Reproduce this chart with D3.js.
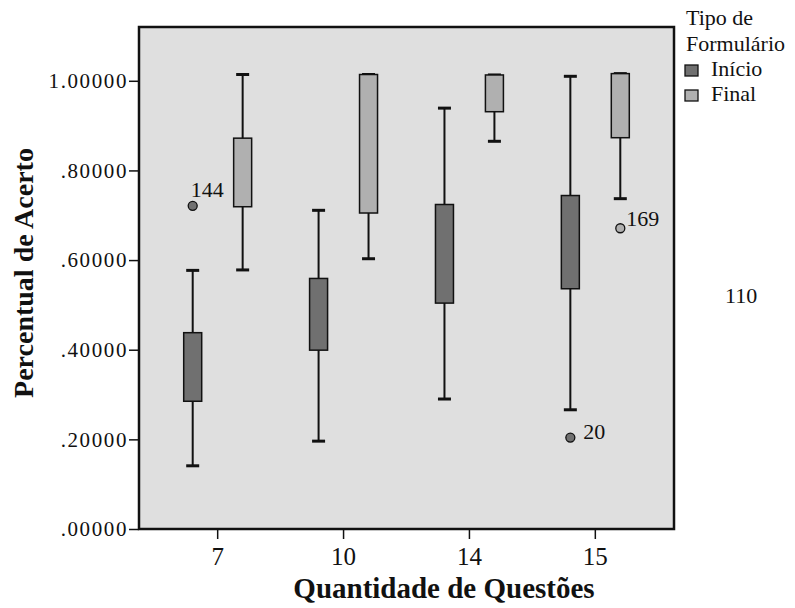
<!DOCTYPE html>
<html>
<head>
<meta charset="utf-8">
<script src="https://cdn.jsdelivr.net/npm/d3@7"></script>
<style>
  body { margin: 0; background: #fff; }
  svg text { font-family: "Liberation Serif", "Times New Roman", serif; fill: #111; }
</style>
</head>
<body>
<div id="chart"></div>
<script>
// categories and series
const questoes = ["7", "10", "14", "15"];
const formularios = ["Início", "Final"];

// box summaries: [whisker low, q1, q3, whisker high]
const inicioBoxes = [
    [0.141, 0.285, 0.438, 0.577],
    [0.196, 0.399, 0.559, 0.711],
    [0.290, 0.504, 0.724, 0.939],
    [0.266, 0.536, 0.744, 1.010]
];
const finalBoxes = [
    [0.578, 0.719, 0.872, 1.014],
    [0.603, 0.705, 1.014, 1.014],
    [0.865, 0.931, 1.013, 1.013],
    [0.737, 0.873, 1.016, 1.016]
];

// outliers
const outlierGroup = ["7", "15", "15"];
const outlierSeries = ["Início", "Início", "Final"];
const outlierValue = [0.721, 0.204, 0.671];
const outlierLabel = ["144", "20", "169"];

const yTicks = [0, 0.2, 0.4, 0.6, 0.8, 1.0];
const strayLabel = "110";

const width = 795, height = 608;
const margin = { left: 139, right: 121, top: 27, bottom: 79 };
const fills = { "Início": "#707070", "Final": "#b0b0b0" };

let svg = d3.select("#chart").append("svg")
    .attr("width", width)
    .attr("height", height);

let x = d3.scaleBand()
    .domain(questoes)
    .range([margin.left, width - margin.right])
    .paddingInner(0)
    .paddingOuter(0.125);

let xInner = d3.scalePoint()
    .domain(formularios)
    .range([0, x.bandwidth()])
    .padding(0.76);

let y = d3.scaleLinear()
    .domain([0, 1.12])
    .range([height - margin.bottom, margin.top]);

// plot background
svg.append("rect")
    .attr("x", margin.left)
    .attr("y", margin.top)
    .attr("width", width - margin.left - margin.right)
    .attr("height", height - margin.top - margin.bottom)
    .attr("fill", "#dfdfdf");

// axes
let fmt = d => d3.format(".5f")(d).replace(/^0/, "");

let yAxis = svg.append("g")
    .attr("transform", `translate(${margin.left},0)`)
    .call(d3.axisLeft(y).tickValues(yTicks).tickFormat(fmt).tickSize(10).tickPadding(1));
yAxis.select(".domain").remove();
yAxis.selectAll(".tick line").attr("stroke", "#111").attr("stroke-width", 1.5);
yAxis.selectAll(".tick text")
    .attr("font-size", 21)
    .style("letter-spacing", "1.6px");

let xAxis = svg.append("g")
    .attr("transform", `translate(0,${height - margin.bottom})`)
    .call(d3.axisBottom(x).tickSize(10).tickPadding(8));
xAxis.select(".domain").remove();
xAxis.selectAll(".tick line").attr("stroke", "#111").attr("stroke-width", 1.5);
xAxis.selectAll(".tick text")
    .attr("font-size", 25);

// boxes
let boxW = 18, capW = 13;
let rows = [];
questoes.forEach((q, i) => {
    rows.push({ q: q, s: "Início", v: inicioBoxes[i] });
    rows.push({ q: q, s: "Final", v: finalBoxes[i] });
});

let box = svg.append("g").selectAll("g")
    .data(rows)
    .join("g")
    .attr("transform", d => `translate(${x(d.q) + xInner(d.s)},0)`);

box.append("line")
    .attr("y1", d => y(d.v[0]))
    .attr("y2", d => y(d.v[3]))
    .attr("stroke", "#111")
    .attr("stroke-width", 2);

box.selectAll("line.cap")
    .data(d => [d.v[0], d.v[3]])
    .join("line")
    .attr("class", "cap")
    .attr("x1", -capW / 2)
    .attr("x2", capW / 2)
    .attr("y1", d => y(d))
    .attr("y2", d => y(d))
    .attr("stroke", "#111")
    .attr("stroke-width", 3);

box.append("rect")
    .attr("x", -boxW / 2)
    .attr("width", boxW)
    .attr("y", d => y(d.v[2]))
    .attr("height", d => y(d.v[1]) - y(d.v[2]))
    .attr("fill", d => fills[d.s])
    .attr("stroke", "#111")
    .attr("stroke-width", 1.5);

// outliers and their case numbers
let labelPlace = {
    "144": { dx: -2, dy: -9 },
    "20": { dx: 13, dy: 1 },
    "169": { dx: 6, dy: -2 }
};
let outliers = outlierValue.map((v, i) => ({
    q: outlierGroup[i], s: outlierSeries[i], v: v, label: outlierLabel[i]
}));

let out = svg.append("g").selectAll("g")
    .data(outliers)
    .join("g")
    .attr("transform", d => `translate(${x(d.q) + xInner(d.s)},${y(d.v)})`);

out.append("circle")
    .attr("r", 4.5)
    .attr("fill", d => fills[d.s])
    .attr("stroke", "#111")
    .attr("stroke-width", 1.3);

out.append("text")
    .attr("x", d => labelPlace[d.label].dx)
    .attr("y", d => labelPlace[d.label].dy)
    .attr("font-size", 22)
    .text(d => d.label);

// frame
svg.append("rect")
    .attr("x", margin.left)
    .attr("y", margin.top)
    .attr("width", width - margin.left - margin.right)
    .attr("height", height - margin.top - margin.bottom)
    .attr("fill", "none")
    .attr("stroke", "#111")
    .attr("stroke-width", 2.5);

// axis titles
svg.append("text")
    .attr("x", 444)
    .attr("y", 598)
    .attr("text-anchor", "middle")
    .attr("font-size", 29)
    .attr("font-weight", "bold")
    .text("Quantidade de Questões");

svg.append("text")
    .attr("transform", `translate(33,${273}) rotate(-90)`)
    .attr("text-anchor", "middle")
    .attr("font-size", 28)
    .attr("font-weight", "bold")
    .text("Percentual de Acerto");

// legend
let legend = svg.append("g").attr("transform", "translate(686,0)");
legend.append("text").attr("y", 25).attr("font-size", 22).text("Tipo de");
legend.append("text").attr("y", 51).attr("font-size", 22).text("Formulário");

let item = legend.selectAll("g.item")
    .data(formularios)
    .join("g")
    .attr("class", "item")
    .attr("transform", (d, i) => `translate(-1,${76 + i * 25})`);

item.append("rect")
    .attr("y", -11)
    .attr("width", 13)
    .attr("height", 11)
    .attr("fill", d => fills[d])
    .attr("stroke", "#111")
    .attr("stroke-width", 1.3);

item.append("text")
    .attr("x", 26)
    .attr("font-size", 22)
    .text(d => d);

svg.append("text")
    .attr("x", 725)
    .attr("y", 303)
    .attr("font-size", 22)
    .text(strayLabel);
</script>
</body>
</html>
